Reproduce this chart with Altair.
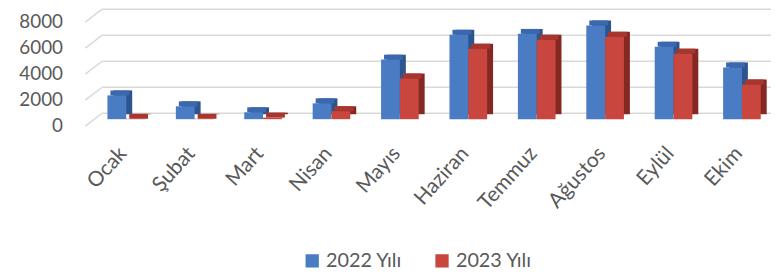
import altair as alt
import pandas as pd

months = ["Ocak", "Şubat", "Mart", "Nisan", "Mayıs", "Haziran", "Temmuz", "Ağustos", "Eylül", "Ekim"]
series = ["2022 Yılı", "2023 Yılı"]
v2022 = [1830, 990, 530, 1220, 4580, 6490, 6560, 7200, 5570, 3970]
v2023 = [30, 30, 120, 610, 3130, 5420, 6110, 6340, 5040, 2670]
y_ticks = [0, 2000, 4000, 6000, 8000]

front_colors = ["#4A7CC4", "#C9463F"]
top_colors = ["#3A67AE", "#A9352F"]
side_colors = ["#2C558F", "#852824"]

df22 = pd.DataFrame({"month": months, "year": series[0], "value": v2022})
df23 = pd.DataFrame({"month": months, "year": series[1], "value": v2023})
grid_df = pd.DataFrame({"tick": y_ticks})

FONT = "Lato"
GREY = "#595959"
GRID = "#D9D9D9"

yscale = alt.Scale(domain=[0, 8000], nice=False)
xscale = alt.Scale(paddingInner=0.45, paddingOuter=0.15)

y_axis = alt.Axis(values=y_ticks, format="d", grid=False, domain=False, ticks=False,
                  labelPadding=35, labelOffset=6, labelFont=FONT,
                  labelFontSize=19, labelColor=GREY)
x_axis = alt.Axis(labelAngle=-48, labelAlign="right", labelBaseline="middle",
                  labelPadding=31, labelOffset=-3, domain=False, ticks=False,
                  labelFont=FONT, labelFontSize=21, labelColor=GREY)


def xenc():
    return alt.X("month:N", sort=months, scale=xscale, title=None, axis=x_axis)


def yenc(field):
    return alt.Y(field, scale=yscale, title=None, axis=y_axis)


# back-wall gridlines
grid = alt.Chart(grid_df).mark_rule(color=GRID, strokeWidth=1.5, yOffset=-6).encode(
    y=yenc("tick:Q"),
    x=alt.value(5), x2=alt.value(680),
)
# side-wall slanted gridlines
slant = alt.Chart(grid_df).mark_rule(color=GRID, strokeWidth=1.5, yOffset=7, y2Offset=-6).encode(
    y=yenc("tick:Q"),
    y2="tick:Q",
    x=alt.value(-12), x2=alt.value(5),
)

BW = alt.RelativeBandSize(0.5)


def side_layer(d, dx, col):
    return alt.Chart(d).mark_bar(width=BW, xOffset=dx + 6, yOffset=-5, y2Offset=-5, color=col).encode(
        x=xenc(), y=yenc("value:Q"),
    )


def top_layer(d, dx, col):
    return alt.Chart(d).mark_bar(width=BW, xOffset=dx + 3, yOffset=-5, y2Offset=0, color=col).encode(
        x=xenc(), y=yenc("value:Q"), y2="value:Q",
    )


def front_layer(d, dx):
    return alt.Chart(d).mark_bar(width=BW, xOffset=dx).encode(
        x=xenc(), y=yenc("value:Q"),
        color=alt.Color("year:N", sort=series,
                        scale=alt.Scale(domain=series, range=front_colors),
                        legend=alt.Legend(title=None, orient="none", legendX=207, legendY=238,
                                          direction="horizontal", symbolType="square",
                                          symbolSize=180, symbolStrokeWidth=0,
                                          labelFont=FONT, labelFontSize=20, labelColor=GREY,
                                          columnPadding=30, labelOffset=4)),
    )


chart = (
    alt.layer(
        grid, slant,
        side_layer(df22, -9.5, side_colors[0]),
        top_layer(df22, -9.5, top_colors[0]),
        side_layer(df23, 9.5, side_colors[1]),
        top_layer(df23, 9.5, top_colors[1]),
        front_layer(df22, -9.5),
        front_layer(df23, 9.5),
    )
    .properties(
        width=680, height=105,
        autosize=alt.AutoSizeParams(type="none"),
        padding={"left": 90, "top": 6, "right": 2, "bottom": 152},
    )
    .configure_view(stroke=None)
)

chart.save("out.html", embed_options={"renderer": "svg", "actions": False})
